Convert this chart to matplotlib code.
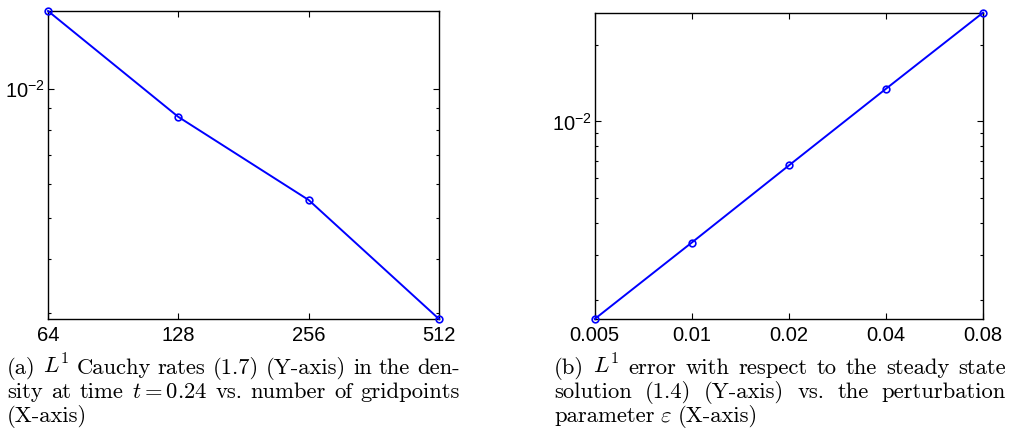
import matplotlib
matplotlib.use("Agg")
import matplotlib.pyplot as plt
from matplotlib.ticker import LogLocator, FixedLocator, FixedFormatter, NullLocator, NullFormatter

plt.rcParams['font.family'] = 'Liberation Sans'
plt.rcParams['mathtext.fontset'] = 'cm'

# (a) Cauchy rates against grid size
gridpoints = [64, 128, 256, 512]
cauchy_err = [0.0152, 0.0086, 0.0055, 0.0029]

# (b) error against the perturbation parameter
eps_vals = [0.005, 0.01, 0.02, 0.04, 0.08]
eps_labels = ['0.005', '0.01', '0.02', '0.04', '0.08']
steady_err = [0.00168, 0.00335, 0.00672, 0.01343, 0.0267]

caption_a = [
    r"(a) $L^1$ Cauchy rates (1.7) (Y-axis) in the den-",
    r"sity at time $t=0.24$ vs. number of gridpoints",
    r"(X-axis)",
]
caption_b = [
    r"(b) $L^1$ error with respect to the steady state",
    r"solution (1.4) (Y-axis) vs. the perturbation",
    r"parameter $\varepsilon$ (X-axis)",
]

W, H = 1009, 428
fig = plt.figure(figsize=(W / 100, H / 100), dpi=100)
ax1 = fig.add_axes([48 / W, 109 / H, 391 / W, 308 / H])
ax2 = fig.add_axes([594.7 / W, 109 / H, 388.3 / W, 306.3 / H])


def setup(ax, xs, xlabels, ys):
    ax.plot(xs, ys, '-o', color='blue', lw=1.4, ms=4.8, mfc='none', mew=1.2, clip_on=False, zorder=3)
    ax.set_xscale('log', base=2)
    ax.set_yscale('log')
    ax.set_xlim(min(xs), max(xs))
    ax.set_ylim(min(ys), max(ys))
    ax.xaxis.set_major_locator(FixedLocator(xs))
    ax.xaxis.set_major_formatter(FixedFormatter(xlabels))
    ax.xaxis.set_minor_locator(NullLocator())
    ax.yaxis.set_major_locator(LogLocator(base=10))
    ax.yaxis.set_minor_locator(LogLocator(base=10, subs=range(2, 10)))
    ax.yaxis.set_minor_formatter(NullFormatter())
    ax.tick_params(which='both', direction='in', top=True, right=True, labelsize=14.5, width=0.8)
    ax.tick_params(which='major', length=4)
    ax.tick_params(which='minor', length=2.5)
    ax.tick_params(axis='x', pad=5)
    ax.tick_params(axis='y', pad=2)
    for s in ax.spines.values():
        s.set_linewidth(1.0)


setup(ax1, gridpoints, [str(g) for g in gridpoints], cauchy_err)
setup(ax2, eps_vals, eps_labels, steady_err)


def justified(lines, x0, x1, y0, dy, size=16.3):
    # spread words so every line but the last fills x0..x1 (pixels from top-left)
    renderer = fig.canvas.get_renderer()
    for i, line in enumerate(lines):
        y = y0 + i * dy
        words = line.split()
        texts = [fig.text(0, (H - y) / H, w, family='cmr10', fontsize=size, va='baseline') for w in words]
        widths = [t.get_window_extent(renderer).width for t in texts]
        if i < len(lines) - 1:
            gap = (x1 - x0 - sum(widths)) / (len(words) - 1)
        else:
            gap = 6
        x = x0
        for t, w in zip(texts, widths):
            t.set_x(x / W)
            x += w + gap


justified(caption_a, 7, 460, 374, 24)
justified(caption_b, 554, 1006, 374, 24)

fig.savefig('out.png', dpi=100)
